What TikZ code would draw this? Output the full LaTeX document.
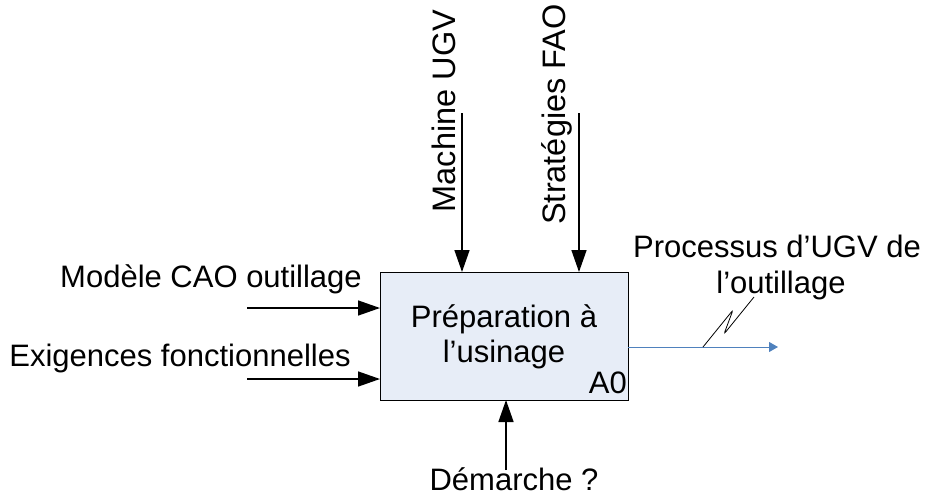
\documentclass[tikz,border=0pt]{standalone}
\usepackage{fontspec}
\setmainfont{Liberation Sans}
\usetikzlibrary{arrows.meta}
\definecolor{boxfill}{HTML}{E7EDF7}
\definecolor{outblue}{HTML}{4F81BD}
\begin{document}
\begin{tikzpicture}[x=1pt,y=-1pt,
  lbl/.style={inner sep=0pt,font=\fontsize{31}{36}\selectfont},
  vlbl/.style={inner sep=0pt,font=\fontsize{32.5}{36}\selectfont,rotate=90},
  inarrow/.style={line width=1.5pt,-{Triangle[length=22pt,width=15pt]}},
  outarrow/.style={line width=1pt,outblue,-{Triangle[length=9pt,width=10pt]}}]
\useasboundingbox (0,0) rectangle (927,499);
% box
\node (box) [draw=black,line width=1.2pt,fill=boxfill,minimum width=248pt,minimum height=128pt,inner sep=0pt,anchor=north west] at (380,272) {};
\node (t1) [lbl,anchor=base] at (504,327) {Préparation à};
\node (t2) [lbl,anchor=base] at (504,362) {l’usinage};
\node (a0) [lbl,anchor=base east] at (627,393) {A0};
% labels
\node (mod) [lbl,anchor=base] at (211,287) {Modèle CAO outillage};
\node (exi) [lbl,anchor=base] at (180,366) {Exigences fonctionnelles};
\node (mac) [vlbl,anchor=base] at (455,111) {Machine UGV};
\node (str) [vlbl,anchor=base] at (565,114.5) {Stratégies FAO};
\node (pro1) [lbl,anchor=base] at (777,257) {Processus d’UGV de};
\node (pro2) [lbl,anchor=base] at (781,293) {l’outillage};
\node (dem) [lbl,anchor=base] at (514,490) {Démarche ?};
% coordinates
\coordinate (cm0) at (462,113); \coordinate (cm1) at (462,272);
\coordinate (cs0) at (579,113); \coordinate (cs1) at (579,272);
\coordinate (ci0) at (247,308); \coordinate (ci1) at (380,308);
\coordinate (ce0) at (247,379); \coordinate (ce1) at (380,379);
\coordinate (cd0) at (506,470); \coordinate (cd1) at (506,400);
\coordinate (co0) at (628,347); \coordinate (co1) at (778,347);
\coordinate (sq0) at (703,347); \coordinate (sq1) at (754,297);
% arrows
\draw[inarrow] (cm0) -- (cm1);
\draw[inarrow] (cs0) -- (cs1);
\draw[inarrow] (ci0) -- (ci1);
\draw[inarrow] (ce0) -- (ce1);
\draw[inarrow] (cd0) -- (cd1);
\draw[outarrow] (co0) -- (co1);
\draw[line width=0.8pt,rounded corners=2.5pt] (sq0) -- (733,310) -- (724,334) -- (sq1);
\end{tikzpicture}
\end{document}
